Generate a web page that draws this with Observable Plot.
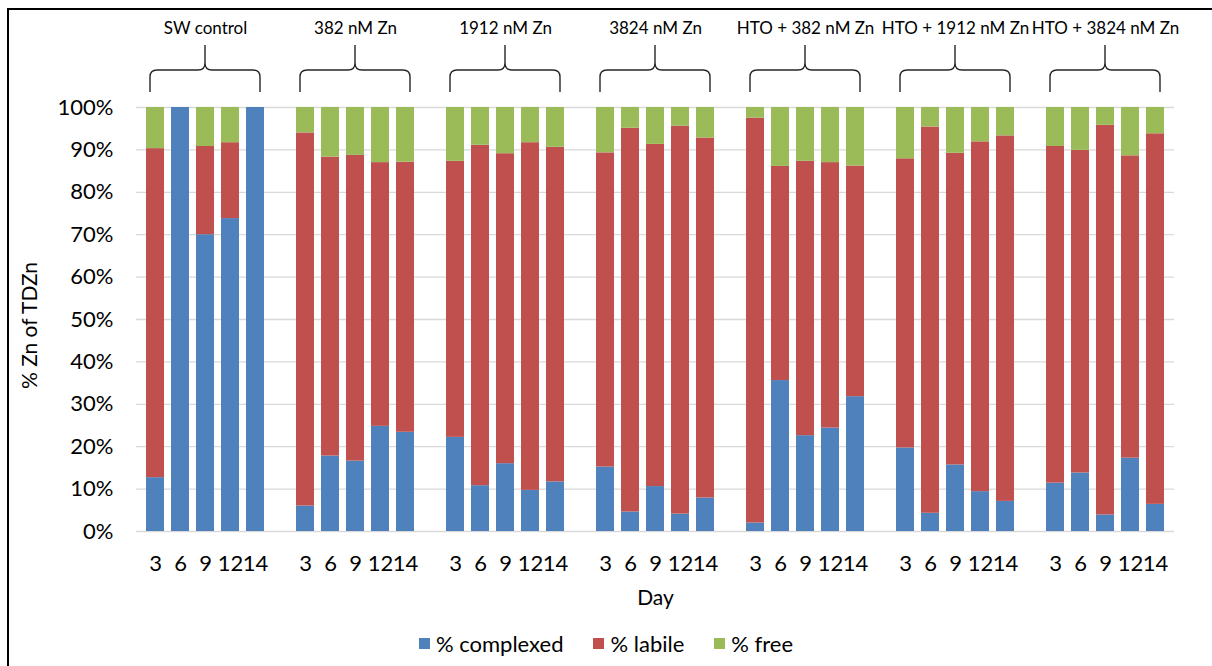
<!DOCTYPE html>
<html>
<head>
<meta charset="utf-8">
<script src="https://cdn.jsdelivr.net/npm/d3@7"></script>
<script src="https://cdn.jsdelivr.net/npm/@observablehq/plot@0.6"></script>
<style>
  html, body { margin: 0; padding: 0; background: #fff; width: 1212px; height: 666px; overflow: hidden; }
  #frame { position: absolute; left: 7px; top: 8px; width: 1230px; height: 690px; border: 2px solid #000; box-sizing: border-box; }
  #chart { position: absolute; left: 0; top: 0; }
  #legend { position: absolute; left: 0; width: 1212px; top: 630px; display: flex; justify-content: center; gap: 30px;
            font-family: Lato, sans-serif; font-size: 22px; color: #000; box-sizing: border-box; }
  #legend .item { display: flex; align-items: center; gap: 6px; }
  #legend .sw { width: 11px; height: 11px; display: inline-block; }
</style>
</head>
<body>
<div id="frame"></div>
<div id="chart"></div>
<div id="legend"></div>
<script>
// ---- data ----
const groups = ["SW control", "382 nM Zn", "1912 nM Zn", "3824 nM Zn", "HTO + 382 nM Zn", "HTO + 1912 nM Zn", "HTO + 3824 nM Zn"];
const days = ["3", "6", "9", "12", "14"];
const seriesNames = ["% complexed", "% labile", "% free"];
const seriesColors = ["#4F81BD", "#C0504D", "#9BBB59"];
const yTicks = [0, 10, 20, 30, 40, 50, 60, 70, 80, 90, 100];

// one value per bar: 7 groups x 5 days
const complexed = [
  12.7, 100, 70.0, 73.8, 100,
  6.0, 17.8, 16.6, 24.8, 23.4,
  22.2, 10.8, 16.0, 9.7, 11.7,
  15.2, 4.6, 10.6, 4.1, 7.9,
  2.0, 35.6, 22.6, 24.4, 31.8,
  19.7, 4.3, 15.7, 9.4, 7.1,
  11.4, 13.8, 3.9, 17.3, 6.4
];
const labile = [
  77.6, 0, 20.8, 17.9, 0,
  88.0, 70.5, 72.1, 62.2, 63.7,
  65.1, 80.3, 73.1, 82.0, 78.9,
  74.1, 90.5, 80.7, 91.5, 84.9,
  95.5, 50.5, 64.7, 62.6, 54.4,
  68.2, 91.1, 73.5, 82.5, 86.2,
  79.4, 76.1, 91.9, 71.3, 87.4
];
const free = [
  9.7, 0, 9.2, 8.3, 0,
  6.0, 11.7, 11.3, 13.0, 12.9,
  12.7, 8.9, 10.9, 8.3, 9.4,
  10.7, 4.9, 8.7, 4.4, 7.2,
  2.5, 13.9, 12.7, 13.0, 13.8,
  12.1, 4.6, 10.8, 8.1, 6.7,
  9.2, 10.1, 4.2, 11.4, 6.2
];

// ---- build table ----
const seriesValues = [complexed, labile, free];
const rows = [];
const xDomain = [];
groups.forEach((g, gi) => {
  if (gi > 0) xDomain.push("gap" + gi);
  days.forEach((d, di) => {
    const key = g + "|" + d;
    xDomain.push(key);
    seriesNames.forEach((s, si) => {
      rows.push({key, group: g, day: d, series: s, value: seriesValues[si][gi * 5 + di]});
    });
  });
});

const FONT = "Lato, sans-serif";

// curly braces above each group, positioned with the x scale
function braces(index, scales, values, dimensions) {
  const x = scales.x;
  const bw = x.bandwidth ? x.bandwidth() : 0;
  const g = d3.create("svg:g").attr("fill", "none").attr("stroke", "#262626").attr("stroke-width", 1.4);
  const yTop = dimensions.marginTop - 62, yMid = dimensions.marginTop - 37, yBot = dimensions.marginTop - 15;
  const r = 7, half = 55;
  for (const grp of groups) {
    const cx = x(grp + "|9") + bw / 2;
    const L = cx - half, R = cx + half;
    const p = `M${L},${yBot} L${L},${yMid + r} Q${L},${yMid} ${L + r},${yMid} L${cx - r},${yMid} Q${cx},${yMid} ${cx},${yMid - r} L${cx},${yTop}` +
              ` M${cx},${yMid - r} Q${cx},${yMid} ${cx + r},${yMid} L${R - r},${yMid} Q${R},${yMid} ${R},${yMid + r} L${R},${yBot}`;
    g.append("path").attr("d", p);
  }
  return g.node();
}

const chart = Plot.plot({
  width: 1212,
  height: 620,
  marginLeft: 136,
  marginRight: 38,
  marginTop: 107,
  marginBottom: 89,
  style: {fontFamily: FONT, color: "#000", background: "transparent", overflow: "visible"},
  x: {domain: xDomain, paddingInner: 0.3, paddingOuter: 0.15, axis: null},
  y: {domain: [0, 100], axis: null},
  color: {domain: seriesNames, range: seriesColors},
  marks: [
    Plot.gridY(yTicks, {stroke: "#D9D9D9", strokeOpacity: 1, strokeWidth: 1.3}),
    Plot.barY(rows, {x: "key", y: "value", fill: "series"}),
    Plot.axisY(yTicks, {tickSize: 0, tickPadding: 23, tickFormat: d => d + "%", fontSize: 22, label: null}),
    Plot.axisX({tickSize: 0, tickPadding: 24, fontSize: 22, label: null,
                tickFormat: k => k.startsWith("gap") ? "" : k.split("|")[1]}),
    Plot.text(["Day"], {frameAnchor: "bottom", textAnchor: "middle", lineAnchor: "middle", dy: 67, fontSize: 21}),
    Plot.text(["% Zn of TDZn"], {frameAnchor: "left", textAnchor: "middle", lineAnchor: "middle", rotate: -90, dx: -106, dy: 6, fontSize: 21}),
    Plot.text(groups, {x: g => g + "|9", frameAnchor: "top", textAnchor: "middle", lineAnchor: "middle", dy: -79, fontSize: 17}),
    braces
  ]
});
document.getElementById("chart").appendChild(chart);

const legend = document.getElementById("legend");
seriesNames.forEach((s, i) => {
  const item = document.createElement("div");
  item.className = "item";
  const sw = document.createElement("span");
  sw.className = "sw";
  sw.style.background = seriesColors[i];
  const t = document.createElement("span");
  t.textContent = s;
  item.appendChild(sw);
  item.appendChild(t);
  legend.appendChild(item);
});
</script>
</body>
</html>
